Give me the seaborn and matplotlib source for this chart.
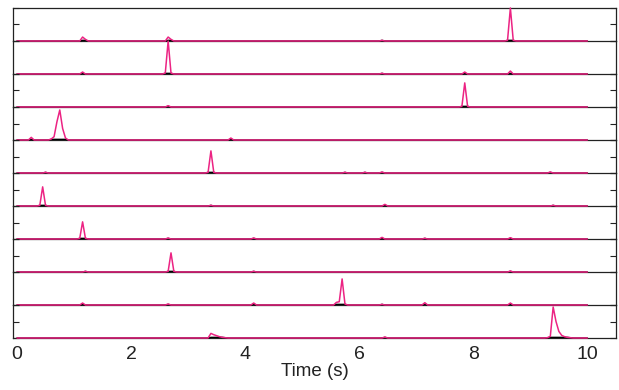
import numpy as np
import pandas as pd
import matplotlib
matplotlib.use("Agg")
import matplotlib.pyplot as plt
import seaborn as sns

# time axis (s), 0.05 s sampling
time = np.round(np.arange(0, 10.0001, 0.05), 2)

# per-trace events: sample times and normalised amplitudes (top trace first)
event_times = [
    [1.15, 1.2, 2.65, 2.7, 6.4, 8.6, 8.65, 8.7],
    [1.15, 2.6, 2.65, 2.7, 6.4, 7.85, 8.65],
    [2.65, 7.8, 7.85, 7.9],
    [0.25, 0.6, 0.65, 0.7, 0.75, 0.8, 0.85, 3.75],
    [0.5, 3.35, 3.4, 3.45, 5.75, 6.1, 6.4, 9.35],
    [0.4, 0.45, 0.5, 3.4, 6.45, 9.4],
    [1.1, 1.15, 1.2, 2.65, 4.15, 6.4, 7.15, 8.65],
    [1.2, 2.65, 2.7, 2.75, 4.15, 8.65],
    [1.15, 2.65, 4.15, 5.6, 5.65, 5.7, 5.75, 6.4, 7.15, 8.65],
    [3.4, 3.45, 3.5, 3.55, 3.6, 3.65, 6.45, 9.3, 9.35, 9.4, 9.45, 9.5, 9.55, 9.6, 9.65, 9.7],
]
event_vals = [
    [0.12, 0.05, 0.12, 0.05, 0.02, 0.02, 1.0, 0.02],
    [0.06, 0.03, 1.0, 0.03, 0.02, 0.06, 0.09],
    [0.04, 0.02, 0.73, 0.02],
    [0.08, 0.03, 0.1, 0.55, 0.91, 0.35, 0.06, 0.06],
    [0.02, 0.02, 0.67, 0.02, 0.02, 0.02, 0.03, 0.03],
    [0.02, 0.58, 0.02, 0.02, 0.05, 0.02],
    [0.02, 0.52, 0.02, 0.03, 0.03, 0.05, 0.02, 0.04],
    [0.02, 0.02, 0.58, 0.02, 0.02, 0.03],
    [0.06, 0.03, 0.06, 0.08, 0.1, 0.79, 0.03, 0.02, 0.07, 0.06],
    [0.14, 0.1, 0.07, 0.04, 0.02, 0.01, 0.03, 0.01, 0.05, 0.94, 0.5, 0.2, 0.08, 0.04, 0.02, 0.01],
]
has_mid_tick = [True, False, True, True, True, True, True, True, False, True]
x_ticks = [0, 2, 4, 6, 8, 10]

pink = "#EC2383"

sns.set_style("white")
plt.rcParams["font.family"] = ["Liberation Sans", "DejaVu Sans"]

n = len(event_times)
fig, axes = plt.subplots(n, 1, figsize=(6.19, 3.9), dpi=100, sharex=True)
fig.subplots_adjust(left=0.021, right=0.995, top=0.9795, bottom=0.1333, hspace=0)

for i, ax in enumerate(axes):
    vals = np.zeros_like(time)
    for t, v in zip(event_times[i], event_vals[i]):
        vals[np.argmin(np.abs(time - t))] = v
    df = pd.DataFrame({"t": time, "pink": vals, "black": np.minimum(vals, 0.02)})
    sns.lineplot(data=df, x="t", y="black", ax=ax, color="black", lw=1.0, clip_on=False, zorder=3)
    sns.lineplot(data=df, x="t", y="pink", ax=ax, color=pink, lw=1.1, clip_on=False, zorder=4)
    ax.set_xlim(-0.07, 10.5)
    ax.set_ylim(0, 1)
    ax.set_yticks([0, 0.5, 1] if has_mid_tick[i] else [0, 1])
    ax.set_yticklabels([])
    ax.set_ylabel("")
    ax.set_xlabel("")
    ax.tick_params(axis="y", direction="in", length=4, width=0.8, left=True, right=True, colors="#222222")
    ax.tick_params(axis="x", length=0)
    for s in ax.spines.values():
        s.set_color("#222222")
        s.set_linewidth(0.9)
    # the row above already draws this line as its baseline
    ax.spines["top"].set_visible(i == 0)
    ax.patch.set_visible(False)

axes[-1].set_xticks(x_ticks)
axes[-1].set_xticklabels([str(v) for v in x_ticks], fontsize=14, color="#222222")
axes[-1].tick_params(axis="x", pad=6)
axes[-1].set_xlabel("Time (s)", fontsize=13.5, color="#222222", labelpad=0)

fig.savefig("out.png", dpi=100)
